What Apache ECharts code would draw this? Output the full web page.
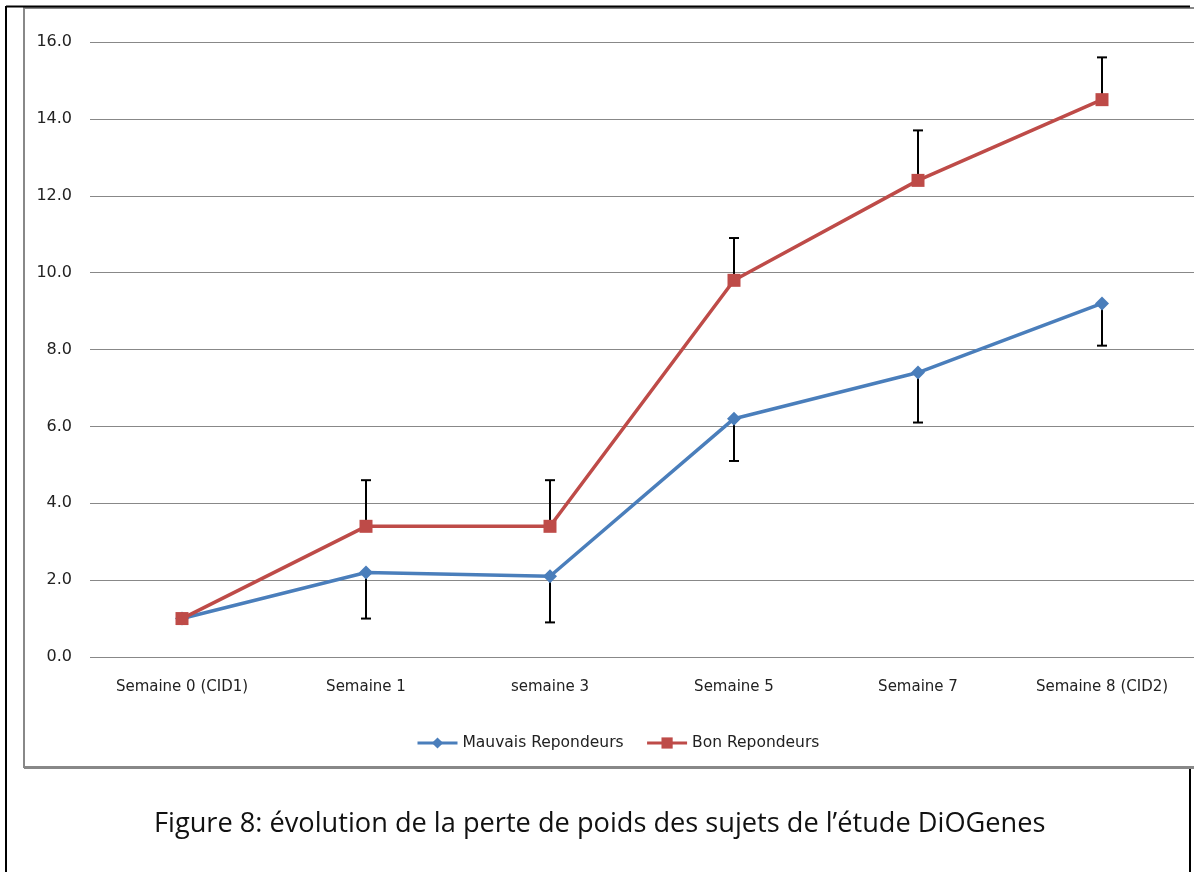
<!DOCTYPE html>
<html>
<head>
<meta charset="utf-8">
<script src="https://cdn.jsdelivr.net/npm/echarts@6/dist/echarts.min.js"></script>
<style>
html,body{margin:0;padding:0;background:#fff;}
#c{width:1194px;height:872px;}
</style>
</head>
<body>
<div id="c"></div>
<script>
const categories = ['Semaine 0 (CID1)', 'Semaine 1', 'semaine 3', 'Semaine 5', 'Semaine 7', 'Semaine 8 (CID2)'];
const mauvais = [1.0, 2.2, 2.1, 6.2, 7.4, 9.2];
const mauvaisErr = [0, 1.2, 1.2, 1.1, 1.3, 1.1];   // lower error bars
const bon = [1.0, 3.4, 3.4, 9.8, 12.4, 14.5];
const bonErr = [0, 1.2, 1.2, 1.1, 1.3, 1.1];       // upper error bars
const yTicks = [0, 2, 4, 6, 8, 10, 12, 14, 16];

const chart = echarts.init(document.getElementById('c'));

function errData(vals, errs, dir) {
  return vals.map((v, i) => errs[i] > 0 ? [i, v, dir < 0 ? v - errs[i] : v + errs[i]] : null).filter(Boolean);
}
function renderErr(params, api) {
  const i = api.value(0);
  const p0 = api.coord([i, api.value(1)]);
  const p1 = api.coord([i, api.value(2)]);
  const hw = 5;
  const st = {stroke: '#000', lineWidth: 2};
  return {
    type: 'group',
    children: [
      {type: 'line', shape: {x1: p0[0], y1: p0[1], x2: p1[0], y2: p1[1]}, style: st},
      {type: 'line', shape: {x1: p1[0] - hw, y1: p1[1], x2: p1[0] + hw, y2: p1[1]}, style: st}
    ]
  };
}

const font = 'DejaVu Sans';
chart.setOption({
  animation: false,
  title: {
    text: 'Figure 8: évolution de la perte de poids des sujets de l\u2019étude DiOGenes',
    left: 149, top: 806,
    textStyle: {fontFamily: 'Open Sans', fontSize: 27.2, fontWeight: 'normal', color: '#111'}
  },
  legend: {
    left: 411, top: 730,
    itemWidth: 40, itemHeight: 14, itemGap: 22,
    lineStyle: {width: 3},
    textStyle: {fontFamily: font, fontSize: 15.5, color: '#222'},
    data: ['Mauvais Repondeurs', 'Bon Repondeurs']
  },
  grid: {left: 90, right: 0, top: 42, bottom: 872 - 657},
  xAxis: {
    type: 'category', data: categories, boundaryGap: true,
    axisLine: {show: false}, axisTick: {show: false},
    axisLabel: {fontFamily: font, fontSize: 15, color: '#222', margin: 23}
  },
  yAxis: {
    type: 'value', min: yTicks[0], max: yTicks[yTicks.length - 1], interval: 2,
    axisLine: {show: false}, axisTick: {show: false},
    axisLabel: {fontFamily: font, fontSize: 16, color: '#222', margin: 18, formatter: v => v.toFixed(1)},
    splitLine: {lineStyle: {color: '#888', width: 1}}
  },
  graphic: [
    {type: 'rect', shape: {x: 24, y: 8, width: 1200, height: 759}, style: {fill: 'none', stroke: '#888', lineWidth: 2}, silent: true, z: -1},
    {type: 'line', shape: {x1: 24, y1: 767.5, x2: 1194, y2: 767.5}, style: {stroke: '#888', lineWidth: 3}, silent: true},
    {type: 'line', shape: {x1: 6, y1: 6.5, x2: 1190, y2: 6.5}, style: {stroke: '#000', lineWidth: 2}, silent: true},
    {type: 'line', shape: {x1: 6, y1: 6, x2: 6, y2: 872}, style: {stroke: '#000', lineWidth: 2}, silent: true},
    {type: 'line', shape: {x1: 1190, y1: 769, x2: 1190, y2: 872}, style: {stroke: '#000', lineWidth: 2}, silent: true}
  ],
  series: [
    {type: 'custom', name: 'errM', renderItem: renderErr, data: errData(mauvais, mauvaisErr, -1), z: 1, encode: {x: 0, y: [1, 2]}},
    {type: 'custom', name: 'errB', renderItem: renderErr, data: errData(bon, bonErr, 1), z: 1, encode: {x: 0, y: [1, 2]}},
    {type: 'line', name: 'Mauvais Repondeurs', data: mauvais, symbol: 'diamond', symbolSize: 14,
     lineStyle: {color: '#4A7EBB', width: 3.5}, itemStyle: {color: '#4A7EBB'}, z: 3},
    {type: 'line', name: 'Bon Repondeurs', data: bon, symbol: 'rect', symbolSize: 13,
     lineStyle: {color: '#BE4B48', width: 3.5}, itemStyle: {color: '#BE4B48'}, z: 4}
  ]
});
</script>
</body>
</html>
